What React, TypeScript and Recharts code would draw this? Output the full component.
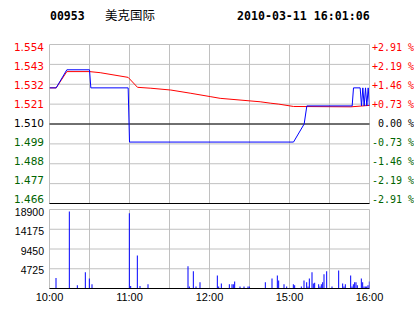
import React from 'react';
import { LineChart, Line, XAxis, YAxis, CartesianGrid, BarChart, Bar, ReferenceLine } from 'recharts';

const PREV_CLOSE = 1.51;
const priceTicks = [1.554, 1.543, 1.532, 1.521, 1.51, 1.499, 1.488, 1.477, 1.466];
const volumeTicks = [0, 4725, 9450, 14175, 18900];
const timeTicks = [0, 30, 60, 90, 120, 150, 180, 210, 240];
const timeLabels: Record<number, string> = { 0: '10:00', 60: '11:00', 120: '12:00', 180: '15:00', 240: '16:00' };

// last price (blue)
const priceMinutes = [0, 5, 13, 30, 31, 59, 60, 183, 191, 193, 227, 228, 233, 234, 235, 236, 237, 238, 239, 240];
const priceValues = [1.53, 1.53, 1.54, 1.54, 1.53, 1.53, 1.5, 1.5, 1.51, 1.52, 1.52, 1.53, 1.53, 1.52, 1.53, 1.52, 1.53, 1.52, 1.53, 1.52];

// average price (red)
const avgMinutes = [0, 5, 13, 30, 38, 59, 66, 76, 91, 106, 121, 128, 158, 166, 172, 183, 226, 240];
const avgValues = [1.53, 1.53, 1.539, 1.539, 1.5384, 1.5358, 1.5303, 1.5298, 1.5288, 1.527, 1.5251, 1.5242, 1.5223, 1.5215, 1.521, 1.5197, 1.5195, 1.5203];

// volume (blue bars)
const volMinutes = [5, 15, 21, 27, 30, 32, 60, 61, 66, 68, 74, 104, 105, 108, 110, 113, 126, 127, 129, 135, 137, 138, 139, 143, 146, 149, 150, 162, 167, 171, 172, 176, 178, 183, 184, 189, 191, 193, 194, 195, 197, 198, 199, 202, 203, 204, 205, 206, 208, 212, 217, 220, 221, 222, 226, 227, 228, 229, 230, 231, 234, 235, 236, 237, 238, 239, 240];
const volValues = [2500, 18400, 800, 3900, 2400, 1000, 18000, 600, 7900, 600, 1000, 5300, 500, 4100, 500, 1500, 3100, 500, 1200, 1000, 1000, 1000, 1700, 500, 500, 500, 500, 1500, 2400, 3100, 1900, 1000, 500, 1000, 800, 500, 1900, 1500, 500, 2400, 3900, 1200, 1400, 1000, 500, 1000, 1500, 3400, 4100, 500, 4300, 1200, 500, 1000, 3100, 500, 1000, 1500, 1500, 800, 2400, 1500, 500, 500, 500, 800, 1700];

const allMinutes = Array.from(new Set([...priceMinutes, ...avgMinutes])).sort((a, b) => a - b);
const lineData = allMinutes.map((m) => {
  const pi = priceMinutes.indexOf(m);
  const ai = avgMinutes.indexOf(m);
  return { t: m, price: pi >= 0 ? priceValues[pi] : null, avg: ai >= 0 ? avgValues[ai] : null };
});
const volData = volMinutes.map((m, i) => ({ t: m, vol: volValues[i] }));

const P_TOP = 44.5;
const P_H = 159;
const V_TOP = 209.5;
const V_H = 79;
const LEFT_W = 49.5;
const RIGHT_W = 44.5;

const colorFor = (v: number) => {
  if (Math.abs(v - PREV_CLOSE) < 1e-6) return '#000000';
  return v > PREV_CLOSE ? '#ff0000' : '#006400';
};

const priceLabelY = (y: number) => 47 + (y - P_TOP) * (152.5 / P_H);

const LeftPriceTick = (props: any) => {
  const { y, payload } = props;
  const v = payload.value as number;
  return (
    <text x={44} y={priceLabelY(y) + 3.8} textAnchor="end" fill={colorFor(v)} fontSize={10.5} fontFamily="DejaVu Sans">
      {v.toFixed(3)}
    </text>
  );
};

const RightPctTick = (props: any) => {
  const { y, payload } = props;
  const v = payload.value as number;
  const pct = ((v - PREV_CLOSE) / PREV_CLOSE) * 100;
  const isZero = Math.abs(pct) < 1e-6;
  const s = isZero ? '0.00 %' : (pct > 0 ? '+' : '-') + Math.abs(pct).toFixed(2) + ' %';
  return (
    <text x={isZero ? 378 : 372} y={priceLabelY(y) + 3.7} textAnchor="start" fill={colorFor(v)} fontSize={10} fontFamily="DejaVu Sans Mono">
      {s}
    </text>
  );
};

const VolTick = (props: any) => {
  const { y, payload } = props;
  const v = payload.value as number;
  if (v === 0) return null;
  const ly = y + 3.2 - (y - V_TOP) * 0.035;
  return (
    <text x={44} y={ly + 3.7} textAnchor="end" fill="#000000" fontSize={10.5} fontFamily="Liberation Sans, Arial">
      {v}
    </text>
  );
};

const TimeTick = (props: any) => {
  const { x, payload } = props;
  const lab = timeLabels[payload.value as number];
  if (!lab) return null;
  return (
    <text x={x} y={301} textAnchor="middle" fill="#000000" fontSize={11} fontFamily="Liberation Sans, Arial">
      {lab}
    </text>
  );
};

export default function App() {
  return (
    <div style={{ position: 'absolute', left: 0, top: 0, width: 414, height: 314, background: '#ffffff', overflow: 'hidden' }}>
      <div style={{ position: 'absolute', left: 50, top: 9, fontFamily: 'DejaVu Sans Mono', fontWeight: 'bold', fontSize: 11.5, lineHeight: '14px', color: '#000' }}>00953</div>
      <div style={{ position: 'absolute', left: 105, top: 7, fontFamily: 'Noto Sans CJK SC', fontSize: 12.5, lineHeight: '16px', color: '#000' }}>美克国际</div>
      <div style={{ position: 'absolute', left: 237, top: 9, fontFamily: 'DejaVu Sans Mono', fontWeight: 'bold', fontSize: 11.6, lineHeight: '14px', color: '#000' }}>2010-03-11 16:01:06</div>

      <div style={{ position: 'absolute', left: 0, top: 0 }}>
        <LineChart width={414} height={210} data={lineData} margin={{ top: P_TOP, right: 0, bottom: 210 - P_TOP - P_H, left: 0 }}>
          <CartesianGrid yAxisId="left" stroke="#c0c0c0" strokeWidth={1} />
          <XAxis dataKey="t" type="number" domain={[0, 240]} ticks={timeTicks} hide allowDataOverflow />
          <YAxis yAxisId="left" orientation="left" width={LEFT_W} domain={[1.466, 1.554]} ticks={priceTicks} axisLine={false} tickLine={false} tick={<LeftPriceTick />} interval={0} allowDataOverflow />
          <YAxis yAxisId="right" orientation="right" width={RIGHT_W} domain={[1.466, 1.554]} ticks={priceTicks} axisLine={false} tickLine={false} tick={<RightPctTick />} interval={0} allowDataOverflow />
          <ReferenceLine yAxisId="left" y={PREV_CLOSE} stroke="#000000" strokeWidth={1} />
          <ReferenceLine yAxisId="left" y={1.466} stroke="#000000" strokeWidth={1} />
          <Line yAxisId="left" type="linear" dataKey="avg" stroke="#ff0000" strokeWidth={1} dot={false} connectNulls isAnimationActive={false} />
          <Line yAxisId="left" type="linear" dataKey="price" stroke="#0000ff" strokeWidth={1} dot={false} connectNulls isAnimationActive={false} />
        </LineChart>
      </div>

      <div style={{ position: 'absolute', left: 0, top: 0 }}>
        <BarChart width={414} height={314} data={volData} margin={{ top: V_TOP, right: RIGHT_W, bottom: 0, left: 0 }} barCategoryGap={0}>
          <CartesianGrid stroke="#c0c0c0" strokeWidth={1} />
          <XAxis dataKey="t" type="number" domain={[0, 240]} ticks={timeTicks} height={314 - V_TOP - V_H} axisLine={false} tickLine={false} tick={<TimeTick />} interval={0} allowDataOverflow />
          <YAxis width={LEFT_W} domain={[0, 18900]} ticks={volumeTicks} axisLine={false} tickLine={false} tick={<VolTick />} interval={0} allowDataOverflow />
          <ReferenceLine y={0} stroke="#000000" strokeWidth={1} />
          <Bar dataKey="vol" fill="#0000ff" barSize={1} isAnimationActive={false} />
        </BarChart>
      </div>
    </div>
  );
}
